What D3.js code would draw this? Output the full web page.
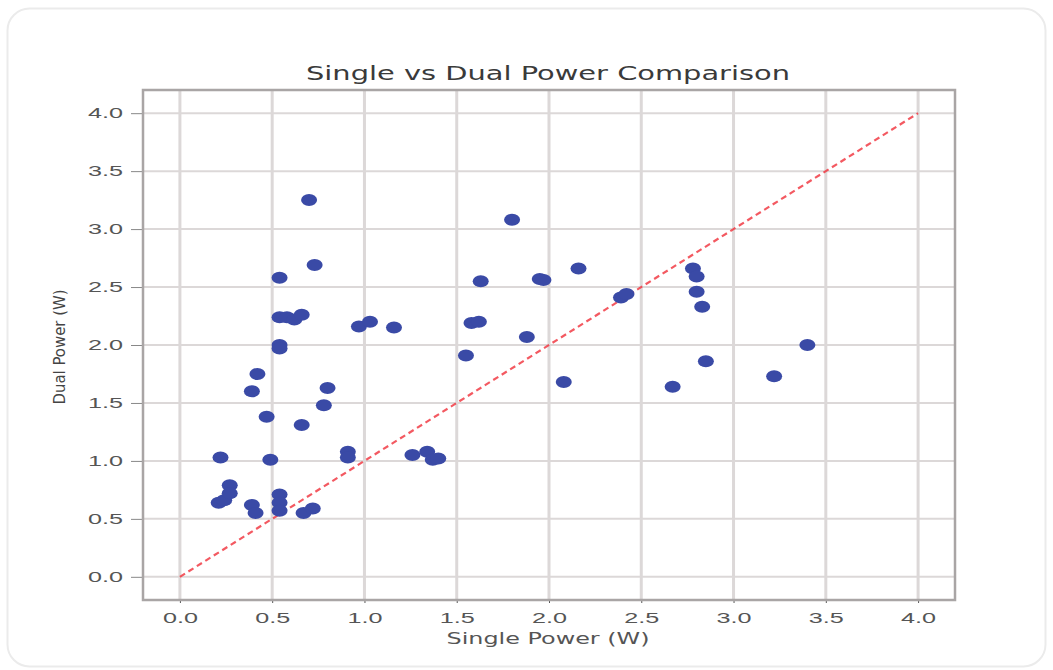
<!DOCTYPE html>
<html>
<head>
<meta charset="utf-8">
<script src="https://cdn.jsdelivr.net/npm/d3@7.9.0/dist/d3.min.js"></script>
<style>
  body { margin: 0; background: #fff; }
  svg { display: block; font-family: "DejaVu Sans", sans-serif; }
</style>
</head>
<body>
<svg></svg>
<script>
// Readings from the reference scatter (W)
const singlePower = [
  0.22, 0.21, 0.24, 0.27, 0.27, 0.39, 0.41, 0.39, 0.42, 0.47,
  0.49, 0.54, 0.54, 0.54, 0.54, 0.54, 0.54, 0.54, 0.58, 0.62,
  0.66, 0.66, 0.67, 0.72, 0.70, 0.73, 0.78, 0.80, 0.91, 0.91,
  0.97, 1.03, 1.16, 1.26, 1.34, 1.37, 1.40, 1.55, 1.58, 1.62,
  1.63, 1.80, 1.88, 1.95, 1.97, 2.08, 2.16, 2.39, 2.42, 2.67,
  2.78, 2.80, 2.80, 2.83, 2.85, 3.22, 3.40
];
const dualPower = [
  1.03, 0.64, 0.66, 0.79, 0.72, 0.62, 0.55, 1.60, 1.75, 1.38,
  1.01, 0.71, 0.64, 0.57, 2.00, 1.97, 2.58, 2.24, 2.24, 2.22,
  2.26, 1.31, 0.55, 0.59, 3.25, 2.69, 1.48, 1.63, 1.08, 1.03,
  2.16, 2.20, 2.15, 1.05, 1.08, 1.01, 1.02, 1.91, 2.19, 2.20,
  2.55, 3.08, 2.07, 2.57, 2.56, 1.68, 2.66, 2.41, 2.44, 1.64,
  2.66, 2.59, 2.46, 2.33, 1.86, 1.73, 2.00
];
const tickValues = [0, 0.5, 1, 1.5, 2, 2.5, 3, 3.5, 4];
const refLine = [0, 4];

const width = 1053, height = 670;
const svg = d3.select("svg").attr("width", width).attr("height", height);

// card background
svg.append("rect")
  .attr("x", 7.5).attr("y", 8.5)
  .attr("width", 1038).attr("height", 658)
  .attr("rx", 22)
  .attr("fill", "#fff")
  .attr("stroke", "#ebebeb")
  .attr("stroke-width", 2);

const x = d3.scaleLinear().domain([-0.2, 4.2]).range([143, 955]);
const y = d3.scaleLinear().domain([-0.2, 4.2]).range([600, 90]);

// grid
svg.append("g")
  .selectAll("line")
  .data(tickValues)
  .join("line")
  .attr("x1", d => x(d)).attr("x2", d => x(d))
  .attr("y1", y.range()[1]).attr("y2", y.range()[0])
  .attr("stroke", "#dcd8d8")
  .attr("stroke-width", 3);

svg.append("g")
  .selectAll("line")
  .data(tickValues)
  .join("line")
  .attr("y1", d => y(d)).attr("y2", d => y(d))
  .attr("x1", x.range()[0]).attr("x2", x.range()[1])
  .attr("stroke", "#dcd8d8")
  .attr("stroke-width", 2);

// axes
const xAxis = svg.append("g")
  .attr("transform", `translate(0,${y.range()[0]})`)
  .call(d3.axisBottom(x).tickValues(tickValues).tickFormat(d3.format(".1f")).tickSize(3).tickPadding(9));
const yAxis = svg.append("g")
  .attr("transform", `translate(${x.range()[0]},0)`)
  .call(d3.axisLeft(y).tickValues(tickValues).tickFormat(d3.format(".1f")).tickSize(12).tickPadding(8));

[xAxis, yAxis].forEach(g => {
  g.select(".domain").remove();
  g.selectAll("line").attr("stroke", "#555");
  g.selectAll("text")
    .attr("fill", "#555")
    .attr("font-size", 15)
    .attr("textLength", 35)
    .attr("lengthAdjust", "spacingAndGlyphs");
});
yAxis.selectAll("line").attr("stroke", "#888").attr("stroke-width", 1);

// reference y = x line
svg.append("line")
  .attr("x1", x(refLine[0])).attr("y1", y(refLine[0]))
  .attr("x2", x(refLine[1])).attr("y2", y(refLine[1]))
  .attr("stroke", "#f0303a")
  .attr("stroke-opacity", 0.8)
  .attr("stroke-width", 2.2)
  .attr("stroke-dasharray", "6,4");

// points
svg.append("g")
  .selectAll("ellipse")
  .data(singlePower.map((s, i) => ({ s, d: dualPower[i] })))
  .join("ellipse")
  .attr("cx", p => x(p.s))
  .attr("cy", p => y(p.d))
  .attr("rx", 8)
  .attr("ry", 6)
  .attr("fill", "#3a4aa6");

// frame
svg.append("rect")
  .attr("x", x.range()[0]).attr("y", y.range()[1])
  .attr("width", x.range()[1] - x.range()[0])
  .attr("height", y.range()[0] - y.range()[1])
  .attr("fill", "none")
  .attr("stroke", "#a9a5a5")
  .attr("stroke-width", 2.5);

// labels
svg.append("text")
  .attr("x", 548).attr("y", 80)
  .attr("text-anchor", "middle")
  .attr("font-size", 19)
  .attr("fill", "#3a3a3a")
  .attr("textLength", 484)
  .attr("lengthAdjust", "spacingAndGlyphs")
  .text("Single vs Dual Power Comparison");

svg.append("text")
  .attr("x", 548).attr("y", 644)
  .attr("text-anchor", "middle")
  .attr("font-size", 16)
  .attr("fill", "#555")
  .attr("textLength", 203)
  .attr("lengthAdjust", "spacingAndGlyphs")
  .text("Single Power (W)");

svg.append("text")
  .attr("transform", "translate(65,347) rotate(-90)")
  .attr("text-anchor", "middle")
  .attr("font-size", 16)
  .attr("fill", "#444")
  .attr("textLength", 115)
  .attr("lengthAdjust", "spacingAndGlyphs")
  .text("Dual Power (W)");
</script>
</body>
</html>
